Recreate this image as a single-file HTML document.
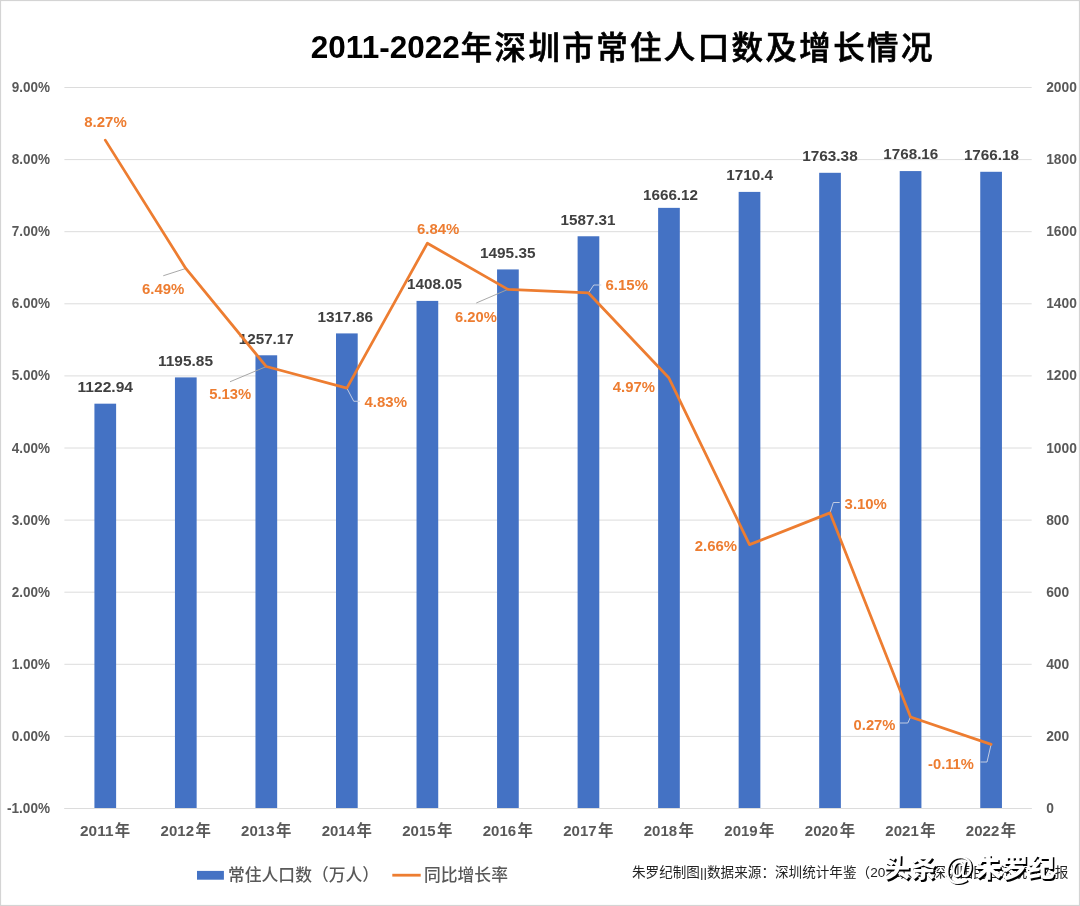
<!DOCTYPE html>
<html lang="zh-CN"><head><meta charset="utf-8"><title>2011-2022年深圳市常住人口数及增长情况</title>
<style>
html,body{margin:0;padding:0;background:#fff;}
body{width:1080px;height:906px;overflow:hidden;position:relative;}
svg{position:absolute;left:0;top:0;display:block;}
text{font-family:"Liberation Sans", "Noto Sans CJK SC", sans-serif;}
.ax{font-size:14.3px;font-weight:700;fill:#595959;}
.bl{font-size:15.3px;font-weight:700;fill:#404040;}
.rl{font-size:15.2px;font-weight:700;fill:#ED7D31;}
.yr{font-size:15.4px;font-weight:700;fill:#595959;}
.cd{font-size:14.9px;font-weight:700;fill:#595959;}
.lg{font-size:16.8px;font-weight:500;fill:#595959;}
.src{font-size:13.6px;font-weight:400;fill:#222;}
.tt{font-weight:700;fill:#000;}
.wm{font-size:26.5px;font-weight:900;}
</style></head><body>
<svg width="1080" height="906" viewBox="0 0 1080 906">
<rect x="0" y="0" width="1080" height="906" fill="#fff"/>
<rect x="0.5" y="0.5" width="1079" height="905" fill="none" stroke="#d4d4d4" stroke-width="1.2"/>
<line x1="64.40" y1="87.50" x2="1031.70" y2="87.50" stroke="#dcdcdc" stroke-width="1"/>
<line x1="64.40" y1="159.60" x2="1031.70" y2="159.60" stroke="#dcdcdc" stroke-width="1"/>
<line x1="64.40" y1="231.70" x2="1031.70" y2="231.70" stroke="#dcdcdc" stroke-width="1"/>
<line x1="64.40" y1="303.80" x2="1031.70" y2="303.80" stroke="#dcdcdc" stroke-width="1"/>
<line x1="64.40" y1="375.90" x2="1031.70" y2="375.90" stroke="#dcdcdc" stroke-width="1"/>
<line x1="64.40" y1="448.00" x2="1031.70" y2="448.00" stroke="#dcdcdc" stroke-width="1"/>
<line x1="64.40" y1="520.10" x2="1031.70" y2="520.10" stroke="#dcdcdc" stroke-width="1"/>
<line x1="64.40" y1="592.20" x2="1031.70" y2="592.20" stroke="#dcdcdc" stroke-width="1"/>
<line x1="64.40" y1="664.30" x2="1031.70" y2="664.30" stroke="#dcdcdc" stroke-width="1"/>
<line x1="64.40" y1="736.40" x2="1031.70" y2="736.40" stroke="#dcdcdc" stroke-width="1"/>
<line x1="64.40" y1="808.50" x2="1031.70" y2="808.50" stroke="#dcdcdc" stroke-width="1"/>
<rect x="94.42" y="403.68" width="21.70" height="404.32" fill="#4472C4"/>
<rect x="174.95" y="377.40" width="21.70" height="430.60" fill="#4472C4"/>
<rect x="255.47" y="355.29" width="21.70" height="452.71" fill="#4472C4"/>
<rect x="336.00" y="333.41" width="21.70" height="474.59" fill="#4472C4"/>
<rect x="416.53" y="300.90" width="21.70" height="507.10" fill="#4472C4"/>
<rect x="497.06" y="269.43" width="21.70" height="538.57" fill="#4472C4"/>
<rect x="577.60" y="236.27" width="21.70" height="571.73" fill="#4472C4"/>
<rect x="658.12" y="207.86" width="21.70" height="600.14" fill="#4472C4"/>
<rect x="738.65" y="191.90" width="21.70" height="616.10" fill="#4472C4"/>
<rect x="819.18" y="172.80" width="21.70" height="635.20" fill="#4472C4"/>
<rect x="899.72" y="171.08" width="21.70" height="636.92" fill="#4472C4"/>
<rect x="980.25" y="171.79" width="21.70" height="636.21" fill="#4472C4"/>
<line x1="64.40" y1="808.50" x2="1031.70" y2="808.50" stroke="#dcdcdc" stroke-width="1"/>
<text class="tt" x="310.80" y="57.80" textLength="149.00" lengthAdjust="spacingAndGlyphs" style="font-size:31.3px">2011-2022</text>
<text class="tt" x="460.70" y="58.60" style="font-size:31.4px;font-weight:500;letter-spacing:2.47px;stroke:#000;stroke-width:0.7px">年深圳市常住人口数及增长情况</text>
<text class="ax" x="11.70" y="92.00" textLength="38.30" lengthAdjust="spacingAndGlyphs">9.00%</text>
<text class="ax" x="11.70" y="164.10" textLength="38.30" lengthAdjust="spacingAndGlyphs">8.00%</text>
<text class="ax" x="11.70" y="236.20" textLength="38.30" lengthAdjust="spacingAndGlyphs">7.00%</text>
<text class="ax" x="11.70" y="308.30" textLength="38.30" lengthAdjust="spacingAndGlyphs">6.00%</text>
<text class="ax" x="11.70" y="380.40" textLength="38.30" lengthAdjust="spacingAndGlyphs">5.00%</text>
<text class="ax" x="11.70" y="452.50" textLength="38.30" lengthAdjust="spacingAndGlyphs">4.00%</text>
<text class="ax" x="11.70" y="524.60" textLength="38.30" lengthAdjust="spacingAndGlyphs">3.00%</text>
<text class="ax" x="11.70" y="596.70" textLength="38.30" lengthAdjust="spacingAndGlyphs">2.00%</text>
<text class="ax" x="11.70" y="668.80" textLength="38.30" lengthAdjust="spacingAndGlyphs">1.00%</text>
<text class="ax" x="11.70" y="740.90" textLength="38.30" lengthAdjust="spacingAndGlyphs">0.00%</text>
<text class="ax" x="7.00" y="813.00" textLength="43.00" lengthAdjust="spacingAndGlyphs">-1.00%</text>
<text class="ax" x="1046.20" y="92.00" textLength="30.72" lengthAdjust="spacingAndGlyphs">2000</text>
<text class="ax" x="1046.20" y="164.10" textLength="30.72" lengthAdjust="spacingAndGlyphs">1800</text>
<text class="ax" x="1046.20" y="236.20" textLength="30.72" lengthAdjust="spacingAndGlyphs">1600</text>
<text class="ax" x="1046.20" y="308.30" textLength="30.72" lengthAdjust="spacingAndGlyphs">1400</text>
<text class="ax" x="1046.20" y="380.40" textLength="30.72" lengthAdjust="spacingAndGlyphs">1200</text>
<text class="ax" x="1046.20" y="452.50" textLength="30.72" lengthAdjust="spacingAndGlyphs">1000</text>
<text class="ax" x="1046.20" y="524.60" textLength="23.04" lengthAdjust="spacingAndGlyphs">800</text>
<text class="ax" x="1046.20" y="596.70" textLength="23.04" lengthAdjust="spacingAndGlyphs">600</text>
<text class="ax" x="1046.20" y="668.80" textLength="23.04" lengthAdjust="spacingAndGlyphs">400</text>
<text class="ax" x="1046.20" y="740.90" textLength="23.04" lengthAdjust="spacingAndGlyphs">200</text>
<text class="ax" x="1046.20" y="813.00" textLength="7.68" lengthAdjust="spacingAndGlyphs">0</text>
<text class="cd" x="80.06" y="835.60" textLength="33.40" lengthAdjust="spacingAndGlyphs">2011</text>
<text class="yr" x="114.86" y="836.40">年</text>
<text class="cd" x="160.60" y="835.60" textLength="33.40" lengthAdjust="spacingAndGlyphs">2012</text>
<text class="yr" x="195.40" y="836.40">年</text>
<text class="cd" x="241.12" y="835.60" textLength="33.40" lengthAdjust="spacingAndGlyphs">2013</text>
<text class="yr" x="275.93" y="836.40">年</text>
<text class="cd" x="321.66" y="835.60" textLength="33.40" lengthAdjust="spacingAndGlyphs">2014</text>
<text class="yr" x="356.46" y="836.40">年</text>
<text class="cd" x="402.19" y="835.60" textLength="33.40" lengthAdjust="spacingAndGlyphs">2015</text>
<text class="yr" x="436.99" y="836.40">年</text>
<text class="cd" x="482.72" y="835.60" textLength="33.40" lengthAdjust="spacingAndGlyphs">2016</text>
<text class="yr" x="517.51" y="836.40">年</text>
<text class="cd" x="563.25" y="835.60" textLength="33.40" lengthAdjust="spacingAndGlyphs">2017</text>
<text class="yr" x="598.04" y="836.40">年</text>
<text class="cd" x="643.77" y="835.60" textLength="33.40" lengthAdjust="spacingAndGlyphs">2018</text>
<text class="yr" x="678.57" y="836.40">年</text>
<text class="cd" x="724.30" y="835.60" textLength="33.40" lengthAdjust="spacingAndGlyphs">2019</text>
<text class="yr" x="759.10" y="836.40">年</text>
<text class="cd" x="804.83" y="835.60" textLength="33.40" lengthAdjust="spacingAndGlyphs">2020</text>
<text class="yr" x="839.63" y="836.40">年</text>
<text class="cd" x="885.37" y="835.60" textLength="33.40" lengthAdjust="spacingAndGlyphs">2021</text>
<text class="yr" x="920.16" y="836.40">年</text>
<text class="cd" x="965.89" y="835.60" textLength="33.40" lengthAdjust="spacingAndGlyphs">2022</text>
<text class="yr" x="1000.69" y="836.40">年</text>
<text class="bl" x="77.50" y="392.10" textLength="55.50" lengthAdjust="spacingAndGlyphs">1122.94</text>
<text class="bl" x="158.00" y="365.80" textLength="55.00" lengthAdjust="spacingAndGlyphs">1195.85</text>
<text class="bl" x="238.75" y="343.80" textLength="55.00" lengthAdjust="spacingAndGlyphs">1257.17</text>
<text class="bl" x="317.50" y="322.10" textLength="55.50" lengthAdjust="spacingAndGlyphs">1317.86</text>
<text class="bl" x="407.00" y="289.10" textLength="55.00" lengthAdjust="spacingAndGlyphs">1408.05</text>
<text class="bl" x="480.00" y="257.60" textLength="55.50" lengthAdjust="spacingAndGlyphs">1495.35</text>
<text class="bl" x="560.50" y="224.60" textLength="55.00" lengthAdjust="spacingAndGlyphs">1587.31</text>
<text class="bl" x="643.00" y="200.30" textLength="55.00" lengthAdjust="spacingAndGlyphs">1666.12</text>
<text class="bl" x="726.25" y="180.30" textLength="46.80" lengthAdjust="spacingAndGlyphs">1710.4</text>
<text class="bl" x="802.20" y="161.00" textLength="55.50" lengthAdjust="spacingAndGlyphs">1763.38</text>
<text class="bl" x="883.30" y="159.00" textLength="55.00" lengthAdjust="spacingAndGlyphs">1768.16</text>
<text class="bl" x="963.90" y="159.60" textLength="55.00" lengthAdjust="spacingAndGlyphs">1766.18</text>
<polyline points="163.25,275.75 185.80,268.47" fill="none" stroke="#a3a3a3" stroke-width="0.95"/>
<polyline points="230.00,381.75 266.32,366.53" fill="none" stroke="#a3a3a3" stroke-width="0.95"/>
<polyline points="346.86,388.16 353.75,401.25 360.00,401.25" fill="none" stroke="#c9d1e4" stroke-width="0.95"/>
<polyline points="476.25,303.00 507.92,289.38" fill="none" stroke="#a3a3a3" stroke-width="0.95"/>
<polyline points="588.45,292.99 593.75,285.00 601.25,285.00" fill="none" stroke="#c9d1e4" stroke-width="0.95"/>
<polyline points="830.03,512.89 833.30,502.50 839.70,502.50" fill="none" stroke="#c9d1e4" stroke-width="0.95"/>
<polyline points="910.57,716.93 907.80,723.00 899.40,723.00" fill="none" stroke="#c9d1e4" stroke-width="0.95"/>
<polyline points="991.10,744.33 987.00,762.00 980.50,762.00" fill="none" stroke="#c9d1e4" stroke-width="0.95"/>
<polyline points="105.27,140.13 185.80,268.47 266.32,366.53 346.86,388.16 427.38,243.24 507.92,289.38 588.45,292.99 668.98,378.06 749.50,544.61 830.03,512.89 910.57,716.93 991.10,744.33" fill="none" stroke="#ED7D31" stroke-width="2.75" stroke-linejoin="round" stroke-linecap="round"/>
<text class="rl" x="84.25" y="127.00" textLength="42.50" lengthAdjust="spacingAndGlyphs">8.27%</text>
<text class="rl" x="142.00" y="293.60" textLength="42.30" lengthAdjust="spacingAndGlyphs">6.49%</text>
<text class="rl" x="209.25" y="398.60" textLength="42.00" lengthAdjust="spacingAndGlyphs">5.13%</text>
<text class="rl" x="364.50" y="406.70" textLength="42.50" lengthAdjust="spacingAndGlyphs">4.83%</text>
<text class="rl" x="417.00" y="233.70" textLength="42.30" lengthAdjust="spacingAndGlyphs">6.84%</text>
<text class="rl" x="455.00" y="321.70" textLength="41.80" lengthAdjust="spacingAndGlyphs">6.20%</text>
<text class="rl" x="605.50" y="290.00" textLength="42.50" lengthAdjust="spacingAndGlyphs">6.15%</text>
<text class="rl" x="612.80" y="392.00" textLength="42.20" lengthAdjust="spacingAndGlyphs">4.97%</text>
<text class="rl" x="694.70" y="550.60" textLength="42.30" lengthAdjust="spacingAndGlyphs">2.66%</text>
<text class="rl" x="844.60" y="509.00" textLength="42.30" lengthAdjust="spacingAndGlyphs">3.10%</text>
<text class="rl" x="853.60" y="730.00" textLength="41.80" lengthAdjust="spacingAndGlyphs">0.27%</text>
<text class="rl" x="928.10" y="768.80" textLength="45.80" lengthAdjust="spacingAndGlyphs">-0.11%</text>
<rect x="197" y="870.9" width="26.9" height="8.8" fill="#4472C4"/>
<text class="lg" x="228.00" y="880.60">常住人口数（万人）</text>
<line x1="392.3" y1="875.2" x2="420.7" y2="875.2" stroke="#ED7D31" stroke-width="2.8"/>
<text class="lg" x="424.00" y="880.60">同比增长率</text>
<text class="src" x="632.00" y="877.30">朱罗纪制图||数据来源：深圳统计年鉴（2022）、</text>
<text class="src" x="932.30" y="877.30">深圳国民经济统计公报</text>
<text class="wm" x="885.20" y="879.00" fill="#000">头条</text>
<text class="wm" x="945.80" y="880.20" textLength="29.30" lengthAdjust="spacingAndGlyphs" fill="#000" style="font-size:32.5px">@</text>
<text class="wm" x="976.80" y="879.00" fill="#000">朱罗纪</text>
<text class="wm" x="883.60" y="877.40" fill="#fff">头条</text>
<text class="wm" x="944.20" y="878.60" textLength="29.30" lengthAdjust="spacingAndGlyphs" fill="#fff" style="font-size:32.5px">@</text>
<text class="wm" x="975.20" y="877.40" fill="#fff">朱罗纪</text>
</svg>
</body></html>
